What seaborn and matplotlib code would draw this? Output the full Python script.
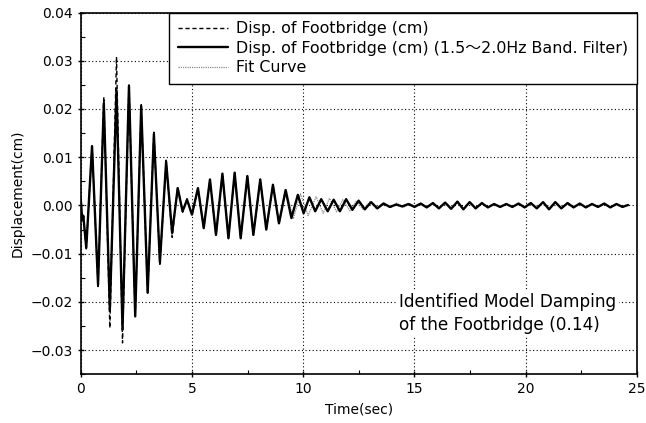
import numpy as np
import pandas as pd
import matplotlib
matplotlib.use("Agg")
import matplotlib.pyplot as plt
import seaborn as sns
from matplotlib.ticker import MultipleLocator

# ---- data (extrema of the oscillations) ----
filt_t = [0.0, 0.07, 0.12, 0.25, 0.51, 0.78, 1.04, 1.31, 1.61, 1.88, 2.17, 2.45,
          2.72, 3.01, 3.29, 3.56, 3.84, 4.11, 4.36, 4.58, 4.78, 5.0, 5.27, 5.53,
          5.81, 6.08, 6.37, 6.64, 6.92, 7.19, 7.49, 7.76, 8.07, 8.34, 8.64, 8.91,
          9.21, 9.47, 9.76, 10.02, 10.28, 10.54, 10.81, 11.1, 11.37, 11.65, 11.93,
          12.21, 12.49, 12.77, 13.05, 13.33, 13.61, 13.9, 14.18, 14.45, 14.73,
          15.0, 15.28, 15.55, 15.83, 16.1, 16.38, 16.65, 16.93, 17.2, 17.48, 17.75,
          18.03, 18.3, 18.58, 18.85, 19.13, 19.4, 19.68, 19.95, 20.23, 20.5, 20.78,
          21.05, 21.33, 21.6, 21.88, 22.15, 22.43, 22.7, 22.98, 23.25, 23.53, 23.8,
          24.08, 24.35, 24.6]
filt_v = [0.0015, -0.003, -0.0022, -0.0088, 0.0123, -0.0164, 0.0212, -0.0216,
          0.0239, -0.0257, 0.0248, -0.0230, 0.0206, -0.0181, 0.0148, -0.0118,
          0.0091, -0.0057, 0.0036, -0.0012, 0.0012, -0.0019, 0.0036, -0.0047,
          0.0054, -0.0061, 0.0066, -0.0068, 0.0068, -0.0068, 0.0061, -0.0061,
          0.0054, -0.0050, 0.0043, -0.0037, 0.0032, -0.0026, 0.0022, -0.0016,
          0.0017, -0.0012, 0.0013, -0.0012, 0.0012, -0.0012, 0.0013, -0.0009,
          0.0010, -0.0008, 0.0007, -0.0006, 0.0004, -0.0003, 0.0002, -0.0002,
          0.0003, -0.0003, 0.0004, -0.0004, 0.0005, -0.0006, 0.0006, -0.0007,
          0.0008, -0.0008, 0.0007, -0.0006, 0.0005, -0.0004, 0.0003, -0.0003,
          0.0003, -0.0003, 0.0004, -0.0004, 0.0005, -0.0006, 0.0007, -0.0008,
          0.0007, -0.0006, 0.0005, -0.0004, 0.0004, -0.0004, 0.0003, -0.0003,
          0.0004, -0.0004, 0.0003, -0.0003, 0.0001]

raw_early_t = [0.0, 0.07, 0.12, 0.25, 0.51, 0.78, 1.04, 1.31, 1.61, 1.88, 2.17,
               2.45, 2.72, 3.01, 3.29, 3.56, 3.84, 4.11, 4.36, 4.58, 4.78, 5.0]
raw_early_v = [0.0015, -0.0032, -0.002, -0.009, 0.0125, -0.0168, 0.0225, -0.0254,
               0.0308, -0.0285, 0.0250, -0.0232, 0.0209, -0.0184, 0.0152, -0.0122,
               0.0094, -0.0066, 0.0038, -0.0014, 0.0014, -0.0020]

fit_t = [6.92, 7.19, 7.49, 7.76, 8.07, 8.34, 8.64, 8.93, 9.24, 9.55, 9.88, 10.22,
         10.58, 10.90, 11.18, 11.50, 11.78, 12.10, 12.40, 12.70, 13.00, 13.30,
         13.60, 13.90, 14.20, 14.50, 14.80, 15.10]
fit_v = [0.0068, -0.0068, 0.0061, -0.0061, 0.0054, -0.0050, 0.0043, -0.0037,
         0.0032, -0.0028, 0.0024, -0.0021, 0.0018, -0.0016, 0.0015, -0.0013,
         0.0012, -0.0011, 0.0010, -0.0009, 0.0008, -0.0007, 0.0006, -0.0005,
         0.0005, -0.0004, 0.0004, -0.0003]

x_ticks = [0, 5, 10, 15, 20, 25]
y_ticks = [-0.03, -0.02, -0.01, 0.0, 0.01, 0.02, 0.03, 0.04]
y_tick_labels = ["\u22120.03", "\u22120.02", "\u22120.01", "0.00", "0.01", "0.02", "0.03", "0.04"]

label_raw = "Disp. of Footbridge (cm)"
label_filt = "Disp. of Footbridge (cm) (1.5\uff5e2.0Hz Band. Filter)"
label_fit = "Fit Curve"
note = "Identified Model Damping\nof the Footbridge (0.14)"

# ---- build tables ----
filt_df = pd.DataFrame({"t": filt_t, "v": filt_v})
raw_df = pd.DataFrame({
    "t": raw_early_t + [t for t in filt_t if t > 5.0],
    "v": raw_early_v + [v for t, v in zip(filt_t, filt_v) if t > 5.0],
})
fit_df = pd.DataFrame({"t": fit_t, "v": fit_v})

sns.set_style("ticks")
plt.rcParams['font.family'] = ['DejaVu Sans', 'Noto Sans CJK JP']
plt.rcParams['axes.unicode_minus'] = True
for k in ['text.color', 'axes.labelcolor', 'xtick.color', 'ytick.color']:
    plt.rcParams[k] = 'black'

fig = plt.figure(figsize=(6.46, 4.23), dpi=100)
ax = fig.add_axes([0.1249, 0.1151, 0.8611, 0.8553])

sns.lineplot(data=raw_df, x="t", y="v", ax=ax, color="black", lw=1.0,
             linestyle=(0, (3, 2)), label=label_raw, estimator=None, sort=False, zorder=3)
sns.lineplot(data=filt_df, x="t", y="v", ax=ax, color="black", lw=1.7,
             label=label_filt, estimator=None, sort=False, zorder=4)
sns.lineplot(data=fit_df, x="t", y="v", ax=ax, color="#8a8a8a", lw=0.9,
             linestyle=(0, (1, 0.8)), label=label_fit, estimator=None, sort=False, zorder=3.5)

ax.set_xlim(0, 25)
ax.set_ylim(-0.035, 0.04)
ax.set_xticks(x_ticks)
ax.set_yticks(y_ticks)
ax.set_yticklabels(y_tick_labels)
ax.xaxis.set_minor_locator(MultipleLocator(2.5))
ax.yaxis.set_minor_locator(MultipleLocator(0.005))
ax.tick_params(which='major', direction='inout', length=5, width=1, labelsize=10,
               colors='black', pad=3)
ax.tick_params(which='minor', direction='in', length=3, width=0.8)
ax.set_axisbelow(True)
ax.grid(True, which='major', color='black', linestyle=(0, (1, 2.2)), linewidth=0.8)
for s in ax.spines.values():
    s.set_visible(True)
    s.set_linewidth(1.2)
    s.set_color('black')

ax.set_xlabel("Time(sec)", fontsize=10, labelpad=5)
ax.set_ylabel("Displacement(cm)", fontsize=10, labelpad=4)

leg = ax.legend(loc='upper right', bbox_to_anchor=(1, 1), borderaxespad=0,
                fancybox=False, edgecolor='black', framealpha=1, fontsize=11.4,
                handlelength=3.2, handletextpad=0.5, labelspacing=0.28, borderpad=0.55)
leg.get_frame().set_linewidth(1.0)

ax.text(14.3, -0.0224, note, fontsize=12.2, ha='left', va='center', linespacing=1.4,
        bbox=dict(facecolor='white', edgecolor='none', pad=2), zorder=6)

fig.savefig("out.png", dpi=100)
